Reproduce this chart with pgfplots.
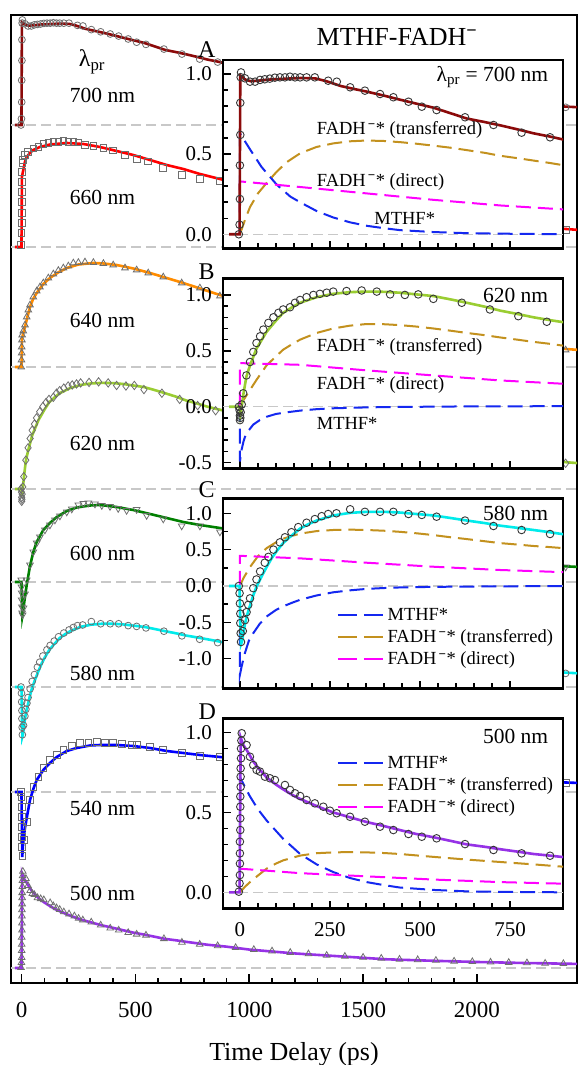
\documentclass[border=0pt]{standalone}
\usepackage{fontspec}
\setmainfont{Liberation Serif}
\usepackage{pgfplots}
\usepackage{pgfplotstable}
\pgfplotsset{compat=1.18}

\definecolor{c700}{RGB}{139,10,10}
\definecolor{c660}{RGB}{255,0,0}
\definecolor{c640}{RGB}{255,140,0}
\definecolor{c620}{RGB}{154,205,50}
\definecolor{c600}{RGB}{0,128,0}
\definecolor{c580}{RGB}{0,235,235}
\definecolor{c540}{RGB}{0,0,255}
\definecolor{c500}{RGB}{150,50,230}
\definecolor{cblue}{RGB}{20,40,240}
\definecolor{cgold}{RGB}{195,145,30}
\definecolor{cmag}{RGB}{255,0,255}
\definecolor{lgray}{RGB}{200,200,200}
\definecolor{mgray}{RGB}{110,110,110}
\definecolor{dgray}{RGB}{55,55,55}

% ---------- shared traces (normalised, as in the insets) ----------
\pgfplotstableread{
t v
-30 0
-1 0
1 0.99
5 0.985
15 0.965
30 0.955
50 0.958
80 0.965
120 0.970
170 0.975
210 0.972
240 0.955
280 0.925
320 0.905
352 0.890
400 0.865
444 0.840
490 0.815
537 0.790
585 0.755
630 0.722
680 0.700
722 0.680
770 0.655
815 0.630
860 0.610
900 0.590
1000 0.550
1200 0.460
1500 0.350
1800 0.270
2100 0.210
2450 0.170
}\fitA
\pgfplotstableread{
t v
-3 0.00
-1 0.06
0 0.22
0 0.43
1 0.62
1 0.82
2 0.98
3 1.01
14 0.973
28 0.952
42 0.952
56 0.963
69 0.967
83 0.971
97 0.977
111 0.979
125 0.979
139 0.983
153 0.979
167 0.979
185 0.979
208 0.979
245 0.958
269 0.952
306 0.917
347 0.896
389 0.875
426 0.855
468 0.827
505 0.796
546 0.775
625 0.730
704 0.682
782 0.634
861 0.605
2390 0.17
}\datA
\pgfplotstableread{
t v
-30 0
-1 0
1 -0.07
4 -0.02
10 0.12
18 0.27
28 0.37
46 0.52
74 0.67
100 0.77
120 0.84
145 0.89
167 0.93
213 0.98
259 1.01
305 1.025
352 1.03
400 1.028
444 1.02
490 1.005
537 0.99
585 0.96
630 0.93
680 0.895
722 0.86
770 0.83
815 0.80
860 0.775
900 0.755
1000 0.70
1200 0.60
1500 0.48
1800 0.38
2100 0.31
2450 0.25
}\fitB
\pgfplotstableread{
t v
-3 0.0
-1 -0.03
0 -0.08
0 -0.12
1 -0.10
2 -0.05
5 0.02
9 0.12
18 0.28
28 0.40
37 0.49
46 0.57
56 0.63
65 0.69
79 0.75
93 0.80
107 0.84
120 0.87
139 0.89
153 0.93
167 0.955
185 0.98
204 1.00
222 1.01
241 1.02
259 1.03
296 1.035
338 1.04
380 1.03
417 1.005
458 1.00
495 1.005
537 0.965
616 0.93
694 0.87
773 0.81
852 0.76
2390 0.25
}\datB
\pgfplotstableread{
t v
-30 0
-1 0
1 -0.45
3 -0.80
6 -0.76
10 -0.63
15 -0.50
20 -0.40
28 -0.27
37 -0.13
46 -0.01
60 0.13
74 0.26
88 0.38
102 0.48
120 0.59
139 0.675
167 0.79
190 0.85
213 0.90
259 0.97
305 1.005
352 1.02
400 1.02
444 1.01
490 0.99
537 0.97
585 0.935
630 0.90
680 0.865
722 0.83
770 0.80
815 0.77
860 0.74
900 0.71
1000 0.66
1200 0.57
1500 0.46
1800 0.37
2100 0.29
2450 0.22
}\fitC
\pgfplotstableread{
t v
-3 0.0
-1 -0.10
0 -0.24
1 -0.38
1 -0.51
2 -0.65
3 -0.77
8 -0.62
14 -0.47
18.5 -0.36
23 -0.26
28 -0.17
37 -0.03
46 0.09
56 0.20
69 0.32
79 0.40
93 0.50
111 0.60
125 0.67
143 0.74
162 0.81
185 0.87
208 0.92
227 0.96
245 0.99
268 1.00
306 1.055
347 1.02
389 1.02
426 1.02
468 0.99
505 0.977
546 0.953
625 0.90
704 0.825
782 0.77
861 0.715
2390 0.22
}\datC
\pgfplotstableread{
t v
-30 0
-1 0
1 0.60
2 0.97
5 0.95
10 0.92
19 0.89
28 0.855
37 0.82
50 0.78
74 0.72
100 0.675
120 0.645
145 0.61
167 0.585
213 0.54
259 0.50
305 0.47
352 0.44
400 0.415
444 0.39
490 0.365
537 0.345
585 0.322
630 0.30
680 0.285
722 0.27
770 0.255
815 0.24
860 0.23
900 0.22
1000 0.19
1200 0.15
1400 0.12
1600 0.09
1800 0.075
2000 0.062
2200 0.052
2450 0.042
}\fitD
\pgfplotstableread{
t v
-3 0.004
-1 0.056
0 0.108
0 0.18
0 0.244
0 0.317
1 0.39
1 0.463
1 0.536
1 0.60
2 0.66
2 0.724
2 0.776
3 0.839
3 0.90
4 0.95
5 0.996
18.5 0.922
27.8 0.849
37 0.797
46.3 0.766
55.6 0.756
69.4 0.724
83.3 0.714
97.2 0.703
125 0.672
139 0.641
153 0.62
167 0.603
185 0.578
208 0.557
231.5 0.536
250 0.511
268.5 0.495
305.6 0.473
347 0.442
389 0.411
426 0.39
468 0.365
505 0.348
546 0.338
625 0.302
704 0.265
782 0.244
861 0.229
940 0.21
1020 0.19
1100 0.175
1180 0.16
1260 0.145
1340 0.13
1420 0.12
1500 0.11
1580 0.10
1660 0.09
1740 0.085
1820 0.078
1900 0.07
1980 0.065
2060 0.06
2140 0.057
2220 0.053
2300 0.048
2380 0.045
}\datD

% ---------- main-only traces ----------
\pgfplotstableread{
t v
-30 0
-1 0
1 0.70
7 0.77
14 0.85
22 0.90
36 0.94
51 0.97
80 1.00
124 1.025
198 1.04
271 1.03
344 1.00
417 0.96
490 0.92
564 0.87
637 0.82
710 0.78
783 0.73
871 0.68
1000 0.61
1200 0.52
1500 0.40
1800 0.30
2100 0.23
2450 0.17
}\fitR
\pgfplotstableread{
t v
-2 0.02
-1 0.14
0 0.24
0 0.34
0 0.45
1 0.55
1 0.65
2 0.75
3 0.84
7 0.87
14.5 0.92
29 0.95
51 0.985
73 1.00
95 1.03
117 1.04
139 1.05
161 1.05
183 1.06
205 1.05
227 1.05
249 1.045
278 1.02
315 1.01
359 0.99
402 0.965
454 0.92
505 0.88
556 0.855
622 0.79
703 0.72
783 0.68
871 0.66
2390 0.17
}\datR
\pgfplotstableread{
t v
-30 0
-1 0
1 0.28
5 0.32
14.5 0.40
25 0.50
36.5 0.60
50 0.68
66 0.74
95 0.83
124 0.89
160 0.945
198 0.99
250 1.025
315 1.04
360 1.035
417 1.02
490 0.985
564 0.94
637 0.89
710 0.84
790 0.78
871 0.72
1000 0.64
1200 0.53
1500 0.40
1800 0.30
2100 0.23
2450 0.17
}\fitO
\pgfplotstableread{
t v
-2 0.0
-1 0.07
0 0.14
0 0.20
1 0.27
2 0.32
7 0.36
14.5 0.42
22 0.50
29 0.57
36.5 0.62
51 0.70
66 0.76
80 0.80
95 0.84
117 0.89
139 0.93
161 0.965
183 0.99
205 1.01
227 1.04
249 1.045
278 1.05
315 1.045
359 1.035
402 1.02
454 0.99
505 0.97
556 0.94
622 0.90
703 0.84
783 0.79
871 0.71
2390 0.17
}\datO
\pgfplotstableread{
t v
-30 0
-1 0
1 -0.20
3 -0.34
6 -0.30
10 -0.22
14.5 -0.15
22 -0.03
36.5 0.16
51 0.30
66 0.40
95 0.52
124 0.59
154 0.65
198 0.71
242 0.745
300 0.765
344 0.77
417 0.75
490 0.72
564 0.68
637 0.64
710 0.60
783 0.57
871 0.54
1000 0.49
1200 0.42
1500 0.33
1800 0.25
2100 0.19
2450 0.15
}\fitG
\pgfplotstableread{
t v
-2 0.02
-1 -0.05
0 -0.11
0 -0.18
1 -0.25
2 -0.31
4 -0.33
8 -0.26
14.5 -0.12
22 0.02
36.5 0.17
51 0.30
66 0.39
80 0.45
102 0.52
124 0.57
146 0.62
168 0.66
198 0.70
220 0.73
249 0.77
271 0.785
293 0.79
322 0.78
352 0.765
388 0.755
424 0.735
461 0.715
505 0.725
549 0.665
622 0.63
703 0.56
783 0.56
871 0.50
2390 0.15
}\datG
\pgfplotstableread{
t v
-30 0
-1 0
1 -0.40
2.5 -0.65
5 -0.55
10 -0.43
14.5 -0.36
22 -0.26
36.5 -0.08
51 0.03
66 0.12
95 0.22
124 0.29
154 0.35
198 0.41
242 0.44
300 0.465
344 0.47
417 0.47
490 0.46
564 0.44
637 0.41
710 0.39
783 0.37
871 0.35
1000 0.32
1200 0.27
1500 0.21
1800 0.16
2100 0.12
2450 0.09
}\fitU
\pgfplotstableread{
t v
-3 0.0
-1 -0.05
0 -0.15
0 -0.25
1 -0.35
1 -0.45
2 -0.55
3 -0.64
8 -0.48
22 -0.30
36.5 -0.08
51 0.05
73 0.15
95 0.24
124 0.32
154 0.37
183 0.42
220 0.46
256 0.49
293 0.493
329 0.497
366 0.487
402 0.493
439 0.48
483 0.47
505 0.47
564 0.453
622 0.42
703 0.393
783 0.36
871 0.347
2390 0.09
}\datU

% ---------- components ----------
\pgfplotstableread{
t v
0 0
0 0.63
28 0.53
60 0.42
102 0.31
140 0.235
167 0.20
213 0.145
259 0.105
305 0.075
352 0.053
400 0.038
444 0.026
537 0.014
630 0.007
722 0.004
815 0.002
900 0.001
}\mthA
\pgfplotstableread{
t v
0 0
14 0.09
28 0.17
50 0.255
74 0.32
102 0.39
130 0.45
167 0.505
213 0.545
259 0.567
305 0.58
352 0.585
400 0.582
444 0.575
490 0.565
537 0.553
585 0.54
630 0.525
680 0.508
722 0.49
770 0.475
815 0.46
860 0.445
900 0.43
}\traA
\pgfplotstableread{
t v
0 0
0 0.33
167 0.295
352 0.255
537 0.215
722 0.18
900 0.155
}\dirA
\pgfplotstableread{
t v
0 0
0 -0.49
5 -0.38
10 -0.31
14 -0.27
20 -0.23
37 -0.16
55 -0.12
74 -0.09
100 -0.065
130 -0.05
167 -0.035
213 -0.022
259 -0.014
352 -0.006
444 -0.002
600 0.002
900 0.005
}\mthB
\pgfplotstableread{
t v
0 0
10 0.06
28 0.15
46 0.24
74 0.37
100 0.45
120 0.51
145 0.56
167 0.60
213 0.66
259 0.70
305 0.725
352 0.74
400 0.738
444 0.73
490 0.717
537 0.70
585 0.68
630 0.66
680 0.64
722 0.62
770 0.60
815 0.58
860 0.563
900 0.545
}\traB
\pgfplotstableread{
t v
0 0
0 0.39
167 0.375
352 0.325
537 0.28
722 0.235
900 0.205
}\dirB
\pgfplotstableread{
t v
0 0
0 -1.22
5 -1.10
14 -0.92
25 -0.75
37 -0.65
55 -0.52
74 -0.42
100 -0.33
120 -0.28
145 -0.23
167 -0.19
213 -0.13
259 -0.087
305 -0.06
352 -0.04
400 -0.028
444 -0.02
537 -0.012
630 -0.008
722 -0.005
900 0.0
}\mthC
\pgfplotstableread{
t v
0 0
10 0.11
28 0.26
50 0.41
74 0.52
100 0.60
120 0.65
145 0.69
167 0.72
213 0.755
259 0.77
305 0.775
352 0.77
400 0.76
444 0.745
490 0.725
537 0.70
585 0.67
630 0.645
680 0.615
722 0.59
770 0.57
815 0.55
860 0.535
900 0.52
}\traC
\pgfplotstableread{
t v
0 0
0 0.415
167 0.38
352 0.32
537 0.265
722 0.22
900 0.19
}\dirC
\pgfplotstableread{
t v
0 0
0 0.72
14 0.66
28 0.60
50 0.52
74 0.45
100 0.385
120 0.335
145 0.285
167 0.24
213 0.175
259 0.127
305 0.09
352 0.064
400 0.045
444 0.03
537 0.015
630 0.006
722 0.003
900 0.0
}\mthD
\pgfplotstableread{
t v
0 0
14 0.035
28 0.064
50 0.105
74 0.148
100 0.18
120 0.20
167 0.23
213 0.245
259 0.25
305 0.252
352 0.25
400 0.246
444 0.24
537 0.222
630 0.205
722 0.19
815 0.175
900 0.16
}\traD
\pgfplotstableread{
t v
0 0
0 0.148
167 0.12
352 0.10
537 0.08
722 0.064
900 0.054
}\dirD

\pgfplotsset{
  inset/.style={anchor=south west, scale only axis, width=340pt,
    xmin=-47, xmax=897, axis background/.style={fill=white},
    axis line style={line width=2.5pt}, tick align=inside, tick pos=left,
    xtick={0,250,500,750}, minor x tick num=4,
    major tick length=7.5pt, minor tick length=5pt,
    every tick/.append style={black, line width=1.5pt},
    yticklabel style={font=\fontsize{21}{21}\selectfont, anchor=east, inner sep=0pt, xshift=-11pt},
    xticklabel style={font=\fontsize{21}{21}\selectfont, inner sep=0pt, text height=14.2pt, text depth=0pt},
    xticklabel shift=14pt,
    legend cell align=left,
    legend image code/.code={\draw[##1, dash pattern=on 19pt off 7pt] (0pt,0pt) -- (45pt,0pt);},
    legend style={draw=none, fill=none, font=\fontsize{18.5}{22}\selectfont,
      inner sep=0pt, row sep=0pt, nodes={inner sep=3.8pt},
      /tikz/column 2/.style={column sep=5pt}},
  },
  zl/.style={lgray, line width=1.2pt, dash pattern=on 10pt off 5pt, forget plot},
  comp/.style={line width=2pt, dash pattern=on 15pt off 7pt},
  dmark/.style={only marks, mark=o, mark size=3.8pt, dgray, mark options={line width=0.9pt}, forget plot},
  fitl/.style={line width=2.6pt, forget plot},
  mm/.style={only marks, mgray, mark size=3.4pt, mark options={line width=0.8pt}},
}

\begin{document}
\begin{tikzpicture}
\path[use as bounding box] (-11pt,-82pt) rectangle (567pt,983pt);

% ================= main panel =================
\begin{axis}[at={(0pt,0pt)}, anchor=south west, scale only axis,
  width=566pt, height=968pt,
  xmin=-47, xmax=2440, ymin=0, ymax=9.68,
  axis line style={line width=2.5pt},
  tick align=inside, tick pos=left,
  xtick={0,500,1000,1500,2000}, xticklabels={0,500,1000,1500,2000},
  minor x tick num=4, ytick=\empty,
  major tick length=9pt, minor tick length=5pt,
  every tick/.append style={black, line width=1.6pt},
  xticklabel style={font=\fontsize{23}{23}\selectfont, inner sep=0pt, text height=15.5pt, text depth=0pt},
  xticklabel shift=18.7pt,
]
\addplot[zl] coordinates {(-47,8.58) (2440,8.58)};
\addplot[zl] coordinates {(-47,7.36) (2440,7.36)};
\addplot[zl] coordinates {(-47,6.16) (2440,6.16)};
\addplot[zl] coordinates {(-47,4.94) (2440,4.94)};
\addplot[zl] coordinates {(-47,4.01) (2440,4.01)};
\addplot[zl] coordinates {(-47,2.96) (2440,2.96)};
\addplot[zl] coordinates {(-47,1.91) (2440,1.91)};
\addplot[zl] coordinates {(-47,0.15) (2440,0.15)};
% 700
\addplot[mm, mark=o] table[x=t, y expr=\thisrow{v}*1.04+8.58]{\datA};
\addplot[c700, fitl] table[x=t, y expr=\thisrow{v}*1.04+8.58]{\fitA};
% 660
\addplot[mm, mark=square] table[x=t, y expr=\thisrow{v}+7.36]{\datR};
\addplot[c660, fitl] table[x=t, y expr=\thisrow{v}+7.36]{\fitR};
% 640
\addplot[mm, mark=triangle, mark size=3.8pt] table[x=t, y expr=\thisrow{v}+6.16]{\datO};
\addplot[c640, fitl] table[x=t, y expr=\thisrow{v}+6.16]{\fitO};
% 620
\addplot[mm, mark=diamond, mark size=4.2pt] table[x=t, y expr=\thisrow{v}*1.03+4.94]{\datB};
\addplot[c620, fitl] table[x=t, y expr=\thisrow{v}*1.03+4.94]{\fitB};
% 600
\addplot[mm, mark=triangle, mark size=3.8pt, mark options={rotate=180, line width=0.8pt}] table[x=t, y expr=\thisrow{v}+4.01]{\datG};
\addplot[c600, fitl] table[x=t, y expr=\thisrow{v}+4.01]{\fitG};
% 580
\addplot[mm, mark=o] table[x=t, y expr=\thisrow{v}*0.62+2.96]{\datC};
\addplot[c580, fitl] table[x=t, y expr=\thisrow{v}*0.62+2.96]{\fitC};
% 540
\addplot[mm, mark=square] table[x=t, y expr=\thisrow{v}+1.91]{\datU};
\addplot[c540, fitl] table[x=t, y expr=\thisrow{v}+1.91]{\fitU};
% 500
\addplot[mm, mark=triangle, mark size=3.8pt] table[x=t, y expr=\thisrow{v}*0.97+0.15]{\datD};
\addplot[c500, fitl] table[x=t, y expr=\thisrow{v}*0.97+0.15]{\fitD};
\end{axis}

% ================= inset A =================
\begin{axis}[inset, at={(212pt,734.7pt)}, height=188.3pt,
  ymin=-0.0873, ymax=1.0873, ytick={0,0.5,1}, yticklabels={0.0,0.5,1.0},
  minor y tick num=4, xticklabels={,,,}]
\addplot[zl] coordinates {(-47,0) (897,0)};
\addplot[cblue, comp] table[x=t,y=v]{\mthA};
\addplot[cgold, comp] table[x=t,y=v]{\traA};
\addplot[cmag, comp] table[x=t,y=v]{\dirA};
\addplot[dmark] table[x=t,y=v]{\datA};
\addplot[c700, fitl] table[x=t,y=v]{\fitA};
\end{axis}

% ================= inset B =================
\begin{axis}[inset, at={(212pt,514.7pt)}, height=190pt,
  ymin=-0.551, ymax=1.149, ytick={-0.5,0,0.5,1}, yticklabels={-0.5,0.0,0.5,1.0},
  minor y tick num=4, xticklabels={,,,}]
\addplot[zl] coordinates {(-47,0) (897,0)};
\addplot[cblue, comp] table[x=t,y=v]{\mthB};
\addplot[cgold, comp] table[x=t,y=v]{\traB};
\addplot[cmag, comp] table[x=t,y=v]{\dirB};
\addplot[dmark] table[x=t,y=v]{\datB};
\addplot[c620, fitl] table[x=t,y=v]{\fitB};
\end{axis}

% ================= inset C =================
\begin{axis}[inset, at={(212pt,294.7pt)}, height=190pt,
  ymin=-1.407, ymax=1.206, ytick={-1,-0.5,0,0.5,1}, yticklabels={-1.0,-0.5,0.0,0.5,1.0},
  minor y tick num=1, xticklabels={,,,},
  legend style={at={(axis description cs:0.334,0.441)}, anchor=north west}]
\addplot[zl] coordinates {(-47,0) (897,0)};
\addplot[cblue, comp] table[x=t,y=v]{\mthC};
\addplot[cgold, comp] table[x=t,y=v]{\traC};
\addplot[cmag, comp] table[x=t,y=v]{\dirC};
\addplot[dmark] table[x=t,y=v]{\datC};
\addplot[c580, fitl] table[x=t,y=v]{\fitC};
\legend{MTHF*,{FADH\textsuperscript{\,\textbf{−}}* (transferred)},{FADH\textsuperscript{\,\textbf{−}}* (direct)}}
\end{axis}

% ================= inset D =================
\begin{axis}[inset, at={(212pt,74.7pt)}, height=190pt,
  ymin=-0.100, ymax=1.0895, ytick={0,0.5,1}, yticklabels={0.0,0.5,1.0},
  minor y tick num=4, xticklabels={0,250,500,750},
  legend style={at={(axis description cs:0.334,0.82)}, anchor=north west}]
\addplot[zl] coordinates {(-47,0) (897,0)};
\addplot[cblue, comp] table[x=t,y=v]{\mthD};
\addplot[cgold, comp] table[x=t,y=v]{\traD};
\addplot[cmag, comp] table[x=t,y=v]{\dirD};
\addplot[dmark] table[x=t,y=v]{\datD};
\addplot[c500, fitl] table[x=t,y=v]{\fitD};
\legend{MTHF*,{FADH\textsuperscript{\,\textbf{−}}* (transferred)},{FADH\textsuperscript{\,\textbf{−}}* (direct)}}
\end{axis}

% ================= texts =================
\node[font=\fontsize{26}{26}\selectfont, anchor=base] at (283pt,-77pt) {Time Delay (ps)};
\node[font=\fontsize{26}{26}\selectfont] at (386pt,946pt) {MTHF-FADH\textsuperscript{\textbf{−}}};
\node[font=\fontsize{24}{24}\selectfont] at (81pt,921pt) {λ\textsubscript{pr}};
\begin{scope}[every node/.style={font=\fontsize{21.5}{21.5}\selectfont}]
\node at (91.5pt,888pt) {700 nm};
\node at (91.5pt,786pt) {660 nm};
\node at (91.5pt,663pt) {640 nm};
\node at (91.5pt,540pt) {620 nm};
\node at (91.5pt,430pt) {600 nm};
\node at (91.5pt,310pt) {580 nm};
\node at (91.5pt,175pt) {540 nm};
\node at (91.5pt,90pt) {500 nm};
\node[anchor=east] at (540.7pt,906.3pt) {λ\textsubscript{pr} = 700 nm};
\node[anchor=east] at (540.7pt,688pt) {620 nm};
\node[anchor=east] at (540.7pt,469.7pt) {580 nm};
\node[anchor=east] at (540.7pt,246.3pt) {500 nm};
\end{scope}
\begin{scope}[every node/.style={font=\fontsize{24}{24}\selectfont}]
\node at (195.7pt,933pt) {A};
\node at (195.7pt,711pt) {B};
\node at (195.7pt,493pt) {C};
\node at (196.3pt,271pt) {D};
\end{scope}
\begin{scope}[every node/.style={font=\fontsize{18.5}{18.5}\selectfont, anchor=west}]
\node at (302.3pt,853pt) {FADH\textsuperscript{\,\textbf{−}}* (transferred)};
\node at (302.3pt,801.3pt) {FADH\textsuperscript{\,\textbf{−}}* (direct)};
\node[anchor=center] at (393.7pt,764.7pt) {MTHF*};
\node at (302.3pt,636.3pt) {FADH\textsuperscript{\,\textbf{−}}* (transferred)};
\node at (302.3pt,598pt) {FADH\textsuperscript{\,\textbf{−}}* (direct)};
\node at (302.3pt,559.7pt) {MTHF*};
\end{scope}
\end{tikzpicture}
\end{document}
